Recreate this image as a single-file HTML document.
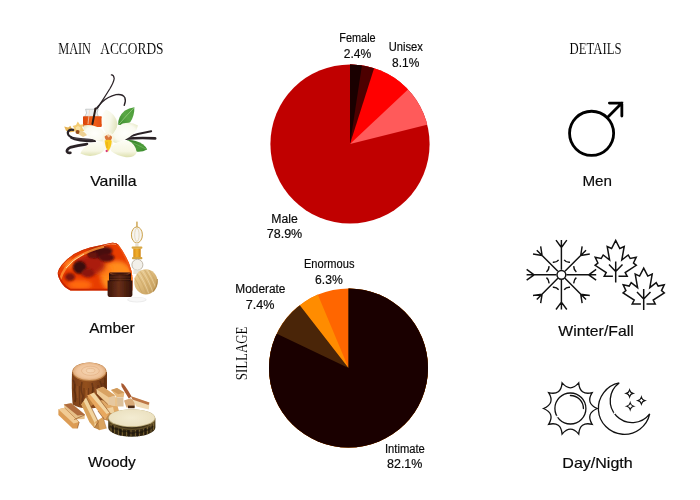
<!DOCTYPE html>
<html><head><meta charset="utf-8"><title>Fragrance details</title>
<style>
html,body{margin:0;padding:0;background:#fff;}
body{width:700px;height:500px;overflow:hidden;font-family:"Liberation Sans",sans-serif;}
svg{display:block;position:absolute;left:0;top:0;will-change:transform;}
.pl,.cl{font-family:"Liberation Sans",sans-serif;text-anchor:middle;fill:#0a0a0a;stroke:#0a0a0a;stroke-width:0.18px;}
.hd{font-family:"Liberation Serif",serif;fill:#000;stroke:#fff;stroke-width:0.08px;}
</style></head>
<body>
<svg width="700" height="500" viewBox="0 0 700 500">
<!-- headers -->
<text class="hd" x="58.2" y="54.2" font-size="17" textLength="32.8" lengthAdjust="spacingAndGlyphs">MAIN</text>
<text class="hd" x="100.2" y="54.2" font-size="17" textLength="63.4" lengthAdjust="spacingAndGlyphs">ACCORDS</text>
<text class="hd" x="569.5" y="53.8" font-size="16.6" textLength="52" lengthAdjust="spacingAndGlyphs">DETAILS</text>
<text class="hd" transform="translate(246.8 380.3) rotate(-90)" x="0" y="0" font-size="17.7" textLength="53.8" lengthAdjust="spacingAndGlyphs">SILLAGE</text>
<!-- pies -->
<clipPath id="pc1"><circle cx="350" cy="144" r="79.6"/></clipPath><g clip-path="url(#pc1)">
<rect x="258.4" y="52.400000000000006" width="183.2" height="183.2" fill="#c00000"/>
<path d="M350 144L350 52.400000000000006A91.6 91.6 0 0 1 438.86 121.78Z" fill="#ff5a5a"/>
<path d="M350 144L350 52.400000000000006A91.6 91.6 0 0 1 416.77 81.30Z" fill="#ff0000"/>
<path d="M350 144L350 52.400000000000006A91.6 91.6 0 0 1 377.76 56.71Z" fill="#4d0000"/>
<path d="M350 144L350 52.400000000000006A91.6 91.6 0 0 1 363.76 53.44Z" fill="#1a0000"/>
</g>
<clipPath id="pc2"><circle cx="348.5" cy="368" r="79.5"/></clipPath><g clip-path="url(#pc2)">
<rect x="257.0" y="276.5" width="183.0" height="183.0" fill="#ff6600"/>
<path d="M348.5 368L348.5 276.5A91.5 91.5 0 1 1 313.22 283.58Z" fill="#ff8c00"/>
<path d="M348.5 368L348.5 276.5A91.5 91.5 0 1 1 292.42 295.70Z" fill="#4a2508"/>
<path d="M348.5 368L348.5 276.5A91.5 91.5 0 1 1 265.95 328.52Z" fill="#1a0000"/>
</g>
<!-- pie labels -->
<text class="pl" x="357.5" y="41.8" font-size="12" textLength="36.3" lengthAdjust="spacingAndGlyphs">Female</text>
<text class="pl" x="357.5" y="58.1" font-size="12" textLength="27.5" lengthAdjust="spacingAndGlyphs">2.4%</text>
<text class="pl" x="405.7" y="50.7" font-size="12" textLength="34.1" lengthAdjust="spacingAndGlyphs">Unisex</text>
<text class="pl" x="405.7" y="66.7" font-size="12" textLength="27.2" lengthAdjust="spacingAndGlyphs">8.1%</text>
<text class="pl" x="284.6" y="222.6" font-size="12" textLength="26.5" lengthAdjust="spacingAndGlyphs">Male</text>
<text class="pl" x="284.5" y="238" font-size="12" textLength="35.5" lengthAdjust="spacingAndGlyphs">78.9%</text>
<text class="pl" x="329.2" y="267.6" font-size="12" textLength="50.5" lengthAdjust="spacingAndGlyphs">Enormous</text>
<text class="pl" x="328.9" y="283.6" font-size="12" textLength="27.7" lengthAdjust="spacingAndGlyphs">6.3%</text>
<text class="pl" x="260.4" y="292.9" font-size="12" textLength="50.1" lengthAdjust="spacingAndGlyphs">Moderate</text>
<text class="pl" x="260.2" y="308.5" font-size="12" textLength="28.7" lengthAdjust="spacingAndGlyphs">7.4%</text>
<text class="pl" x="404.9" y="453.1" font-size="12" textLength="39.9" lengthAdjust="spacingAndGlyphs">Intimate</text>
<text class="pl" x="404.7" y="468.1" font-size="12" textLength="35.4" lengthAdjust="spacingAndGlyphs">82.1%</text>
<!-- category labels -->
<text class="cl" x="113.4" y="186" font-size="15" textLength="46.4" lengthAdjust="spacingAndGlyphs">Vanilla</text>
<text class="cl" x="112" y="332.9" font-size="15" textLength="45.6" lengthAdjust="spacingAndGlyphs">Amber</text>
<text class="cl" x="111.9" y="466.7" font-size="15" textLength="47.8" lengthAdjust="spacingAndGlyphs">Woody</text>
<text class="cl" x="597.2" y="186" font-size="15" textLength="29.6" lengthAdjust="spacingAndGlyphs">Men</text>
<text class="cl" x="596" y="335.7" font-size="15" textLength="75.4" lengthAdjust="spacingAndGlyphs">Winter/Fall</text>
<text class="cl" x="597.5" y="467.6" font-size="15" textLength="70.4" lengthAdjust="spacingAndGlyphs">Day/Nigth</text>
<!-- icons -->
<circle cx="591.6" cy="133.3" r="22.05" fill="none" stroke="#000" stroke-width="2.8"/><path d="M607.2 117.7L621.85 103.1M609.4 103.1H621.85V116.0" fill="none" stroke="#000" stroke-width="2.8" stroke-linecap="round" stroke-linejoin="miter"/>
<path d="M566.40 274.80L596.20 274.80 M588.70 274.80L596.14 269.39 M588.70 274.80L596.14 280.21 M564.94 271.26L586.01 250.19 M580.70 255.50L582.14 246.41 M580.70 255.50L589.79 254.06 M561.40 269.80L561.40 240.00 M561.40 247.50L555.99 240.06 M561.40 247.50L566.81 240.06 M557.86 271.26L536.79 250.19 M542.10 255.50L533.01 254.06 M542.10 255.50L540.66 246.41 M556.40 274.80L526.60 274.80 M534.10 274.80L526.66 280.21 M534.10 274.80L526.66 269.39 M557.86 278.34L536.79 299.41 M542.10 294.10L540.66 303.19 M542.10 294.10L533.01 295.54 M561.40 279.80L561.40 309.60 M561.40 302.10L566.81 309.54 M561.40 302.10L555.99 309.54 M564.94 278.34L586.01 299.41 M580.70 294.10L589.79 295.54 M580.70 294.10L582.14 303.19 M576.35 272.03Q573.50 269.79 573.93 266.19 M570.01 262.27Q566.41 262.70 564.17 259.85 M558.63 259.85Q556.39 262.70 552.79 262.27 M548.87 266.19Q549.30 269.79 546.45 272.03 M546.45 277.57Q549.30 279.81 548.87 283.41 M552.79 287.33Q556.39 286.90 558.63 289.75 M564.17 289.75Q566.41 286.90 570.01 287.33 M573.93 283.41Q573.50 279.81 576.35 277.57" fill="none" stroke="#111" stroke-width="1.45" stroke-linecap="butt"/><circle cx="561.4" cy="274.8" r="4.4" fill="#fff" stroke="#111" stroke-width="1.45"/>
<path d="M612.90 276.30 L604.20 276.30 L606.20 272.50 L595.10 265.30 L597.90 263.00 L595.20 257.20 L601.20 258.50 L603.20 255.00 L609.60 260.00 L607.20 246.50 L611.60 248.50 L615.70 240.50 L619.80 248.50 L624.20 246.50 L621.80 260.00 L628.20 255.00 L630.20 258.50 L636.20 257.20 L633.50 263.00 L636.30 265.30 L625.20 272.50 L627.20 276.30 L618.50 276.30 M615.70 261.50V282.50 M615.70 271.50L609.00 264.50 M615.70 271.50L622.50 264.50" fill="none" stroke="#111" stroke-width="1.5" stroke-linejoin="miter" stroke-linecap="butt"/><path d="M640.90 303.90 L632.20 303.90 L634.20 300.10 L623.10 292.90 L625.90 290.60 L623.20 284.80 L629.20 286.10 L631.20 282.60 L637.60 287.60 L635.20 274.10 L639.60 276.10 L643.70 268.10 L647.80 276.10 L652.20 274.10 L649.80 287.60 L656.20 282.60 L658.20 286.10 L664.20 284.80 L661.50 290.60 L664.30 292.90 L653.20 300.10 L655.20 303.90 L646.50 303.90 M643.70 289.10V310.10 M643.70 299.10L637.00 292.10 M643.70 299.10L650.50 292.10" fill="none" stroke="#111" stroke-width="1.5" stroke-linejoin="miter" stroke-linecap="butt"/>
<path d="M597.30 408.50Q585.43 403.62 592.16 392.69Q579.69 395.72 578.71 382.92Q570.40 392.70 562.09 382.92Q561.11 395.72 548.64 392.69Q555.37 403.62 543.50 408.50Q555.37 413.38 548.64 424.31Q561.11 421.28 562.09 434.08Q570.40 424.30 578.71 434.08Q579.69 421.28 592.16 424.31Q585.43 413.38 597.30 408.50Z" fill="none" stroke="#111" stroke-width="1.3" stroke-linejoin="miter"/><circle cx="570.4" cy="408.5" r="15.5" fill="none" stroke="#111" stroke-width="1.3"/><circle cx="557.2" cy="416.5" r="1.1" fill="#fff"/><path d="M570.40 395.50A13.0 13.0 0 0 1 583.40 408.50" fill="none" stroke="#111" stroke-width="1.3" stroke-linecap="round"/>
<path d="M619.18 382.91A25.96 25.96 0 1 0 649.69 413.89A21.97 21.97 0 1 1 619.18 382.91Z" fill="none" stroke="#111" stroke-width="1.3" stroke-linejoin="miter"/><circle cx="614.5" cy="413.3" r="1.0" fill="#fff"/><path d="M629.6 390.0Q630.35 392.65 633.0 393.4Q630.35 394.15 629.6 396.79999999999995Q628.85 394.15 626.2 393.4Q628.85 392.65 629.6 390.0Z M641.4 397.20000000000005Q642.15 399.85 644.8 400.6Q642.15 401.35 641.4 404.0Q640.65 401.35 638.0 400.6Q640.65 399.85 641.4 397.20000000000005Z M630.2 402.8Q630.95 405.45 633.6 406.2Q630.95 406.95 630.2 409.59999999999997Q629.45 406.95 626.8000000000001 406.2Q629.45 405.45 630.2 402.8Z" fill="none" stroke="#111" stroke-width="1.15" stroke-linejoin="miter"/>
<!-- photos -->
<defs>
<filter id="soft" x="-5%" y="-5%" width="110%" height="110%"><feGaussianBlur stdDeviation="0.45"/></filter>
<radialGradient id="pet" cx="50%" cy="50%" r="60%"><stop offset="0" stop-color="#fffffc"/><stop offset="0.7" stop-color="#fafaf0"/><stop offset="1" stop-color="#e9ebcb"/></radialGradient>
<linearGradient id="petT" x1="0" y1="0" x2="1" y2="0.3"><stop offset="0" stop-color="#fefef8"/><stop offset="0.6" stop-color="#f8f8ea"/><stop offset="1" stop-color="#e4e6c2"/></linearGradient>
<linearGradient id="petB" x1="0" y1="0" x2="0" y2="1"><stop offset="0" stop-color="#fdfdf4"/><stop offset="0.65" stop-color="#f6f6e2"/><stop offset="1" stop-color="#dde0ae"/></linearGradient>
<linearGradient id="leafA" x1="0" y1="1" x2="1" y2="0"><stop offset="0" stop-color="#3c8a2e"/><stop offset="0.5" stop-color="#5aa845"/><stop offset="1" stop-color="#4a9a38"/></linearGradient>
<linearGradient id="leafB" x1="0" y1="0" x2="1" y2="1"><stop offset="0" stop-color="#2f7a26"/><stop offset="0.6" stop-color="#4c9c3a"/><stop offset="1" stop-color="#3b8a2e"/></linearGradient>
<linearGradient id="oil" x1="0" y1="0" x2="1" y2="0"><stop offset="0" stop-color="#d8450c"/><stop offset="0.5" stop-color="#f4611a"/><stop offset="1" stop-color="#e24e10"/></linearGradient>
</defs>
<g id="vanilla" filter="url(#soft)">
<!-- pods behind -->
<path d="M111.4 74.9Q113.6 74.6 114.2 78.5Q113.8 82 110 88.5Q106 95 100.4 103.6Q96.5 109 93.6 116" fill="none" stroke="#2a2226" stroke-width="1.25" stroke-linecap="round"/>
<path d="M93.8 112Q97 107 101.6 102.4Q108 96.6 116 94.7Q122.5 93.6 124.8 97.5Q126.2 101 124.2 105.4" fill="none" stroke="#2a2226" stroke-width="1.35" stroke-linecap="round"/>
<path d="M95.6 108.5L92.4 123" fill="none" stroke="#2a2024" stroke-width="2.1" stroke-linecap="round"/>
<!-- bottle -->
<path d="M85.6 109.2H98.2L97 113L98.4 116.4H84.8L86.6 113Z" fill="#eef0f0" stroke="#9aa0a0" stroke-width="0.5"/>
<rect x="83" y="116.3" width="18.8" height="10.6" rx="0.8" fill="url(#oil)"/>
<path d="M95.4 109L92.4 124" fill="none" stroke="#2a1a18" stroke-width="2" stroke-linecap="round"/>
<path d="M89.6 110L88 124" fill="none" stroke="#f6d8c0" stroke-width="0.9" opacity="0.8"/>
<!-- dried flowers -->
<path d="M64.2 126.6L68.2 127.4L70.4 125.8L72 129L75 128.6L74 131.8L70 132.2L66 130.8Z" fill="#e6b455"/>
<path d="M72.6 126L76 125L77.8 121.6L80 124.8L83.6 124.2L82.2 127.8L84.6 130.8L81 131.8L78.6 134.4L76.2 131.6L72.6 131.2L74.4 128.4Z" fill="#f3cb72"/>
<path d="M75.6 127.4L78 126L80.6 127.6L80 130.4L77 131Z" fill="#f9e2a4"/>
<circle cx="77.6" cy="132" r="2.1" fill="#98501c"/>
<path d="M80 130.4Q84.6 131.2 87.4 135L83 137L79 134.6Z" fill="#eed193"/>
<!-- left pods -->
<path d="M73.2 129.8Q68.8 129 67.8 132.4Q67.6 135.6 71.4 137.2" fill="none" stroke="#2b2327" stroke-width="2.2" stroke-linecap="round"/>
<path d="M71 136.4Q76 137.6 83 138.2Q90 138.6 95.6 139.6L96 142Q88 142.4 80 141.6Q73.6 140.6 70.2 138.6Z" fill="#2b2327"/>
<path d="M74 138.2Q84 139.6 94 140" fill="none" stroke="#6a6068" stroke-width="0.7" opacity="0.7"/>
<path d="M87 144.2Q77 145.4 70.2 147.4Q66.4 149.4 67 151.6Q68 153.4 70.4 152.8" fill="none" stroke="#2b2327" stroke-width="2.7" stroke-linecap="round"/>
<!-- right pods -->
<path d="M128 137Q140 133 151.2 131.2" fill="none" stroke="#2b2327" stroke-width="1.9" stroke-linecap="round"/>
<path d="M126 138.6Q142 137.4 155.2 138.4" fill="none" stroke="#2b2327" stroke-width="2.6" stroke-linecap="round"/>
<!-- leaves -->
<path d="M118.2 124.8Q117.6 117 124.6 110.8Q129 107.8 134.4 107.2Q134.6 116 130.2 122.2Q125 125.4 118.2 124.8Z" fill="url(#leafA)"/>
<path d="M119 124.2Q126 116 134 107.8" fill="none" stroke="#a8d890" stroke-width="0.7" opacity="0.9"/>
<path d="M126.8 140.2Q134 139.2 142.8 144.2Q146 146.6 147.2 149.4Q142 152.6 136 151.6Q131 149 126.8 140.2Z" fill="url(#leafB)"/>
<path d="M128 140.8Q138 145 146.4 149.2" fill="none" stroke="#8cc878" stroke-width="0.6" opacity="0.8"/>
<!-- petals -->
<path d="M106 109.4Q100.6 114 101.8 123.4Q103.6 132 109.6 136Q116.6 133 117.6 124Q116.4 114 106 109.4Z" fill="url(#petT)"/>
<path d="M83.4 125.4Q82.6 131.8 89.8 137.4Q97.6 142.4 105.4 141.4Q108 136 102 129.6Q93.6 123.8 83.4 125.4Z" fill="url(#pet)"/>
<path d="M138 125.4Q131.4 121.4 122.6 123.6Q115.6 127.6 112 136.4Q110.8 142.6 116 143Q126 140.6 133.4 134Q137.2 129.8 138 125.4Z" fill="url(#pet)"/>
<path d="M80.4 153.6Q82.6 147 90.6 143.2Q99 140.4 106 142.6Q107 149.4 100.4 153.6Q90 158.4 80.4 153.6Z" fill="url(#petB)"/>
<path d="M111.6 146.4Q119 140.4 128 140.6Q135.4 143.8 136.8 152.2Q135 157.8 126 157.2Q117 155.8 111 151Z" fill="url(#petB)"/>
<!-- centre -->
<path d="M102.4 138Q103.2 132.4 108.4 131.8Q114 133 113.6 140Q112.6 148 108 153Q104.8 148.8 103 143.4Z" fill="#faf6e4"/>
<path d="M104.6 136.6Q108.4 132.6 112 136.8Q112 140.6 108.6 141.6Q105 140.6 104.6 136.6Z" fill="#d9743a"/>
<path d="M106.8 135Q108.6 134 110.2 135.4Q109.8 137.2 108.2 137.4Z" fill="#f4c9a0"/>
<path d="M104.6 140.6Q108.4 138.8 111.8 140.8Q111.4 147.4 108 151.4Q105.2 147.4 104.6 140.6Z" fill="#f7c81c"/>
<path d="M107 142V148" stroke="#e8a018" stroke-width="0.8" fill="none"/>
<circle cx="106.7" cy="151" r="1.15" fill="#d83a78"/>
</g>
<defs>
<filter id="soft2" x="-5%" y="-5%" width="110%" height="110%"><feGaussianBlur stdDeviation="0.5"/></filter>
<filter id="blob" x="-30%" y="-30%" width="160%" height="160%"><feGaussianBlur stdDeviation="2.2"/></filter>
<filter id="blob2" x="-30%" y="-30%" width="160%" height="160%"><feGaussianBlur stdDeviation="1.3"/></filter>
<clipPath id="ambclip"><path d="M57.6 273.2Q58.6 268.6 62 264.6Q67 258.6 74 254Q81 250 90 247.6Q101 245.2 110.4 243Q116 242.2 118.6 245Q124 252 129 263Q132 271 132.6 278L132.4 290.4H70.4Q64 288 60.6 281.6Q58 277.4 57.6 273.2Z"/></clipPath>
<linearGradient id="jar" x1="0" y1="0" x2="1" y2="0"><stop offset="0" stop-color="#3c150a"/><stop offset="0.45" stop-color="#6a3018"/><stop offset="1" stop-color="#341208"/></linearGradient>
<linearGradient id="jarlid" x1="0" y1="0" x2="1" y2="0"><stop offset="0" stop-color="#2c0e08"/><stop offset="0.5" stop-color="#562412"/><stop offset="1" stop-color="#280c06"/></linearGradient>
<linearGradient id="wood" x1="0" y1="0" x2="1" y2="1"><stop offset="0" stop-color="#ecd29e"/><stop offset="0.5" stop-color="#dcb878"/><stop offset="1" stop-color="#be9858"/></linearGradient>
<linearGradient id="gold" x1="0" y1="0" x2="1" y2="0"><stop offset="0" stop-color="#d88c14"/><stop offset="0.5" stop-color="#f2b02c"/><stop offset="1" stop-color="#d08410"/></linearGradient>
</defs>
<g id="amber" filter="url(#soft2)">
<!-- perfume bottle (behind) -->
<rect x="136.3" y="221.6" width="1.3" height="5.6" fill="#c89a3c"/>
<ellipse cx="136.9" cy="234.9" rx="5.5" ry="8" fill="#f6f4f0" stroke="#caa048" stroke-width="1"/>
<ellipse cx="136.9" cy="234.9" rx="2.2" ry="6.6" fill="none" stroke="#dcc89a" stroke-width="0.6"/>
<rect x="135.3" y="242.6" width="3.2" height="4.6" fill="#e8e0d0"/>
<rect x="131.6" y="246.4" width="10.8" height="2.4" rx="1" fill="#d8a844"/>
<rect x="133.3" y="248.6" width="7.4" height="8.8" fill="url(#gold)"/>
<rect x="132" y="257" width="10.4" height="2.3" rx="1" fill="#d4a440"/>
<circle cx="137.4" cy="264.8" r="5.5" fill="#f2f0ea" stroke="#b4aa98" stroke-width="0.8"/>
<path d="M133.6 268.6Q137.4 272.4 141.2 268.8L141.6 274H133.2Z" fill="#e6e2d8"/>
<!-- amber stone -->
<g clip-path="url(#ambclip)">
<rect x="55" y="240" width="80" height="52" fill="#e83c06"/>
<ellipse cx="117" cy="277" rx="16" ry="16" fill="#ff8c1a" filter="url(#blob)"/>
<ellipse cx="104" cy="270" rx="8" ry="6" fill="#ff7a16" filter="url(#blob)"/>
<ellipse cx="80" cy="285" rx="12" ry="5" fill="#ff6a10" filter="url(#blob)"/>
<ellipse cx="68" cy="263" rx="6" ry="5" fill="#ff7414" filter="url(#blob)"/>
<ellipse cx="90" cy="265" rx="15" ry="10" fill="#a81a08" filter="url(#blob)" opacity="0.95"/>
<ellipse cx="100" cy="252.4" rx="12.5" ry="5.4" fill="#46090b" transform="rotate(-8 100 252.4)" filter="url(#blob2)"/>
<ellipse cx="106.5" cy="257.6" rx="8" ry="4.2" fill="#560d0d" filter="url(#blob2)"/>
<ellipse cx="93" cy="255" rx="5" ry="3" fill="#6a1210" filter="url(#blob2)"/>
<ellipse cx="79.6" cy="267.4" rx="6.6" ry="6.4" fill="#3a0808" filter="url(#blob2)"/>
<ellipse cx="88" cy="273" rx="6.5" ry="4.4" fill="#8c1808" filter="url(#blob2)"/>
<ellipse cx="70" cy="277" rx="5" ry="4" fill="#7a1408" filter="url(#blob2)"/>
<path d="M60 280Q64 266 76 258Q88 250.6 104 246.6" fill="none" stroke="#ff9636" stroke-width="2.4" opacity="0.8"/>
<path d="M66 268Q72 260 84 254" fill="none" stroke="#ffd8a8" stroke-width="1" opacity="0.9"/>
<path d="M58 274Q60 284 70 290H132" fill="none" stroke="#c22206" stroke-width="2.4" opacity="0.9"/>
<path d="M112 243Q118 243 121 248Q128 260 132.4 276" fill="none" stroke="#f05814" stroke-width="2.4"/>
<path d="M104 245.2Q111 243 116 244" fill="none" stroke="#ffb478" stroke-width="1"/>
<path d="M57.6 273.2Q58.6 268.6 62 264.6Q67 258.6 74 254Q81 250 90 247.6Q101 245.2 110.4 243Q116 242.2 118.6 245" fill="none" stroke="#c42c06" stroke-width="1.3" opacity="0.85"/>
</g>
<!-- white disc -->
<ellipse cx="136.9" cy="299.8" rx="9.8" ry="2.8" fill="#ececec"/>
<ellipse cx="136.9" cy="299.4" rx="8.6" ry="2" fill="#f8f8f8"/>
<!-- wooden lid -->
<clipPath id="lidclip"><ellipse cx="145.9" cy="281.8" rx="11.7" ry="12.6"/></clipPath>
<ellipse cx="145.9" cy="281.8" rx="11.7" ry="12.6" fill="url(#wood)"/>
<g clip-path="url(#lidclip)" transform="rotate(62 145.9 281.8)">
<path d="M130 274Q146 271.6 162 275M130 278Q146 275.6 162 279M130 282.4Q146 280 162 283.4M130 286.6Q146 284.4 162 287.6M130 290.6Q146 288.6 162 291.6" fill="none" stroke="#c6a060" stroke-width="0.9" opacity="0.6"/>
<path d="M130 276Q146 273.6 162 277M130 280.2Q146 277.8 162 281.2M130 284.6Q146 282.2 162 285.6" fill="none" stroke="#f4e0b6" stroke-width="0.8" opacity="0.6"/>
</g>
<path d="M153 291.6Q157.6 286 157.4 279" fill="none" stroke="#a88040" stroke-width="1.2" opacity="0.7"/>
<!-- jar -->
<path d="M107.6 280.4H132.4V294.4Q132.4 297 129.4 297H110.6Q107.6 297 107.6 294.4Z" fill="url(#jar)"/>
<rect x="109" y="272.6" width="22" height="8.6" rx="1.2" fill="url(#jarlid)"/>
<ellipse cx="120" cy="273.6" rx="10.4" ry="1.5" fill="#8a4424" opacity="0.9"/>
<ellipse cx="120" cy="273.8" rx="8.6" ry="0.9" fill="#3a1408"/>
<path d="M109.6 277H130.4M109.4 279.4H130.6" stroke="#8a4a2a" stroke-width="0.5" opacity="0.8"/>
</g>
<defs>
<filter id="soft3" x="-5%" y="-5%" width="110%" height="110%"><feGaussianBlur stdDeviation="0.5"/></filter>
<radialGradient id="stumptop" cx="50%" cy="50%" r="55%"><stop offset="0" stop-color="#f6d6b4"/><stop offset="0.7" stop-color="#efc39a"/><stop offset="1" stop-color="#d9a26e"/></radialGradient>
<linearGradient id="stumpbody" x1="0" y1="0" x2="1" y2="0"><stop offset="0" stop-color="#7a3e18"/><stop offset="0.4" stop-color="#93501f"/><stop offset="1" stop-color="#6e3614"/></linearGradient>
<radialGradient id="slicetop" cx="50%" cy="50%" r="60%"><stop offset="0" stop-color="#f3ecd2"/><stop offset="0.8" stop-color="#ece2c2"/><stop offset="1" stop-color="#d8cca2"/></radialGradient>
<linearGradient id="bark" x1="0" y1="0" x2="0" y2="1"><stop offset="0" stop-color="#6a5428"/><stop offset="0.5" stop-color="#3c2e14"/><stop offset="1" stop-color="#2a200e"/></linearGradient>
<clipPath id="barkclip"><path d="M108.2 418.4V427.6A23.6 9.2 0 0 0 155.4 427.6V418.4Z"/></clipPath>
</defs>
<g id="wood" filter="url(#soft3)">
<!-- stump -->
<path d="M72 372Q71.4 390 72.6 404.6Q80 409 90 408.6Q100 408 107 404V372Z" fill="url(#stumpbody)"/>
<path d="M75 384V402M79.6 386V405M84 388V406M88.6 388V404M93 387V400M98 385V396M103 383V394" stroke="#5a2a0e" stroke-width="1.1" opacity="0.55" fill="none"/>
<path d="M77.2 386V398M86.4 390V404M95.6 388V398" stroke="#b06a32" stroke-width="0.8" opacity="0.55" fill="none"/>
<path d="M73 380Q76 384 74 390Q77 396 75 402M82 382Q80 390 83 396Q81 402 84 406M92 383Q94 390 91 396M100 381Q103 388 101 393M105 378Q104 384 106 390" stroke="#4e240c" stroke-width="1.6" opacity="0.5" fill="none"/>
<ellipse cx="89.4" cy="371.8" rx="17.2" ry="9.4" fill="#b87a40"/>
<ellipse cx="89.4" cy="371.3" rx="16.4" ry="8.7" fill="url(#stumptop)"/>
<ellipse cx="90.4" cy="370.8" rx="9" ry="4.6" fill="none" stroke="#dca878" stroke-width="0.7" opacity="0.7"/>
<ellipse cx="90.6" cy="370.6" rx="4.4" ry="2.2" fill="none" stroke="#d8a070" stroke-width="0.6" opacity="0.7"/>
<!-- upper-right pieces -->
<path d="M121.2 383.4Q123 383 125 386Q129 391.6 131.6 396.6L128.8 398.4Q124.6 392 121.6 386.6Z" fill="#a85a30"/>
<path d="M111 390L117 388L124.4 392.6L123.6 397.4L116.6 397Z" fill="#e6b87c"/>
<path d="M111 390L117 388L124.4 392.6L118.4 394.2Z" fill="#d09a5c"/>
<path d="M116.8 397.2L123.4 397.6L123.6 406.6L117.2 406.4Z" fill="#dcc09a"/>
<path d="M124 400.4L130.6 398.2L135 401.6L134.6 407.4L126.4 407.6Z" fill="#d8aa78"/>
<path d="M128 405.6H134.6V408.2H128Z" fill="#4a2a18"/>
<path d="M131 396.2L149.4 402.6L148.8 409.6L136.4 406.4L133.6 401.6Z" fill="#f0dab4"/>
<path d="M131 396.2L149.4 402.6L148.6 405L132.4 399.4Z" fill="#bc7444"/>
<!-- fillers -->
<path d="M97 400L116 401L119 411L108 417L99 410Z" fill="#e0aa68"/>
<path d="M105 409L113 407L114.6 414L107 419.6Z" fill="#f0d2a0"/>
<path d="M84 399L91 395.6L94 404L87 409Z" fill="#c48440"/>
<path d="M110 398L117 397L117.4 406.6L110.6 405Z" fill="#e9c38c"/>
<!-- centre pieces -->
<path d="M96.4 389.2L103 386.8L115.2 395.6L115 406L107.8 404.4L97 394Z" fill="#efcb96"/>
<path d="M96.4 389.2L103 386.8L115.2 395.6L109 397.6Z" fill="#d9a364"/>
<path d="M109 397.6L115.2 395.6L115 406L108.4 404.6Z" fill="#e6c8a0"/>
<path d="M87 395.6L94.2 392.4L109.6 412.4L104.6 419.8L98 411Z" fill="#e8a85e"/>
<path d="M90 394.4L94.2 392.4L109.6 412.4L106.6 414Z" fill="#f3d6a2"/>
<path d="M104.6 419.8L109.6 412.4L113 414L108.6 421Z" fill="#c48a4c"/>
<path d="M81.4 404.4L86.2 397.2L98.4 422L94.2 427.8L89.4 422Z" fill="#f2d49e"/>
<path d="M81.4 404.4L83.6 401L94.6 423L94.2 427.8L89.4 422Z" fill="#d9a25a"/>
<path d="M95 422L103 417L106.4 428.4L99 430.2Z" fill="#dba45e"/>
<path d="M94.2 427.8L98.4 422L99.6 430Z" fill="#c08844"/>
<!-- left pieces -->
<path d="M63.8 404.4L71 403.2L84.8 414.8L84.6 419L74.2 419.6L64.6 407.6Z" fill="#e6bf88"/>
<path d="M63.8 404.4L71 403.2L84.8 414.8L77.6 415.6Z" fill="#b06c3e"/>
<path d="M58.4 409.2L64.6 407.8L79.2 422L77.4 428.6L72.6 428.6L58.4 415Z" fill="#dc9c54"/>
<path d="M58.4 409.2L64.6 407.8L79.2 422L73.6 423.6Z" fill="#f1cb94"/>
<!-- shadows -->
<path d="M86.4 397.4L98.4 422M94.4 392.6L109.6 412.6M97 394L107.8 404.4M84.8 414.8L74.2 419.6M79.2 422L77.4 428.4M98.4 422L94.2 427.8M104.6 419.8L98 411" stroke="#8a4e1e" stroke-width="0.9" opacity="0.7" fill="none"/>
<path d="M64.6 407.8L79.2 422M71 403.2L84.8 414.8M103 417L106.4 428.4" stroke="#a4622c" stroke-width="0.7" opacity="0.6" fill="none"/>
<!-- slice -->
<path d="M108.2 418.4V427.6A23.6 9.2 0 0 0 155.4 427.6V418.4Z" fill="url(#bark)"/>
<g clip-path="url(#barkclip)">
<path d="M111 424V432M114.6 426V434M118.4 428V436M122.4 429V437M126.6 430V437.4M131 430V437.6M135.4 430V437.4M139.6 429.6V437M143.6 428.6V436M147.4 427V434.6M151 425V432.6M153.6 423V430" stroke="#a08448" stroke-width="0.9" opacity="0.7" fill="none"/>
<path d="M112.8 425V433M120.4 428.6V436.4M128.8 430V437.4M137.4 430V437.2M145.6 428V435.4" stroke="#1c140a" stroke-width="1" opacity="0.7" fill="none"/>
<path d="M110 426Q114 430 118 429Q122 433 127 431Q131 435 136 432Q141 434 145 430Q149 431 153 426" stroke="#15100a" stroke-width="1.8" opacity="0.55" fill="none"/>
<path d="M109 421Q116 428 124 428.6Q132 430 140 428.6Q148 428 155 421" stroke="#7a6434" stroke-width="1.2" opacity="0.6" fill="none"/>
</g>
<ellipse cx="131.8" cy="418.2" rx="23.6" ry="9" fill="#b8a878"/>
<ellipse cx="131.8" cy="417.8" rx="23" ry="8.5" fill="url(#slicetop)"/>
</g>

</svg>
</body></html>
